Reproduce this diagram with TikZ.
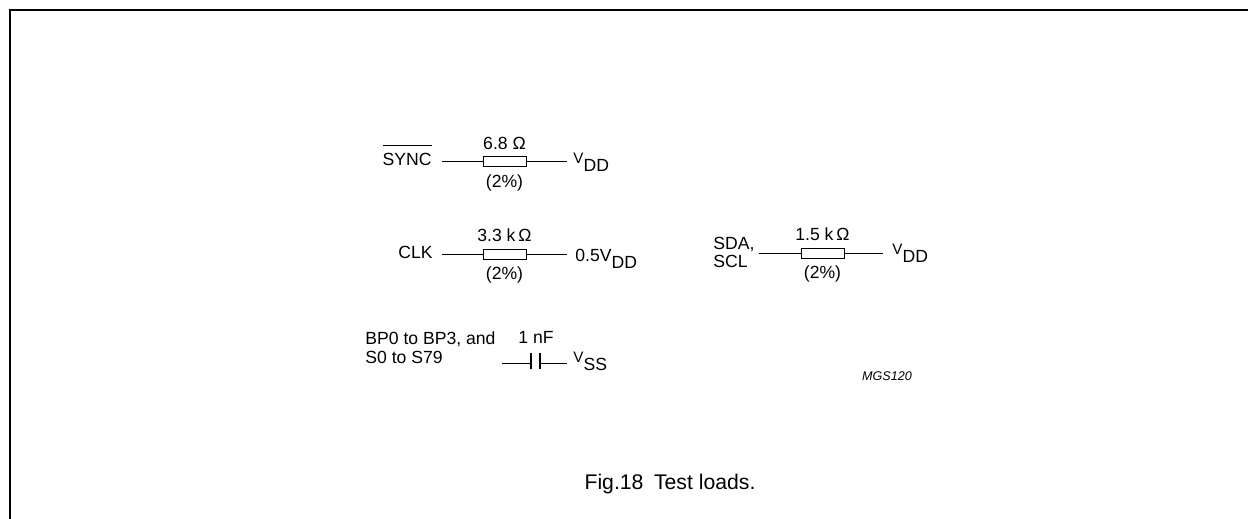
\documentclass[tikz,border=0pt]{standalone}
\usepackage{fontspec}
\setmainfont{Liberation Sans}
\usepackage{tikz}
\newcommand{\vsub}[2]{#1\raisebox{-0.8ex}{#2}}
\newcommand{\vsmall}[2]{{\fontsize{7.6}{9}\selectfont #1}\raisebox{-0.9ex}{#2}}
\begin{document}
\begin{tikzpicture}
    [
    x=0.5pt, y=-0.5pt,
    txt/.style={font=\fontsize{8.8}{10}\selectfont, inner sep=0pt},
    resistor/.style={rectangle,draw,line width=0.5pt,inner sep=0pt,minimum width=21.5pt,minimum height=5pt},
    rlabel/.style={txt,yshift=3pt},
    tolerance/.style={txt,yshift=-3.5pt},
    wire/.style={line width=0.5pt},
    plate/.style={line width=1.4pt}
    ]
    \useasboundingbox (0,0) rectangle (1248,519);
    \draw [line width=0.75pt] (1248,10) -- (10,10) -- (10,519);
    % SYNC row
    \node (sync) at (432,165) [txt,anchor=base east] {$\overline{\mbox{\rule{0pt}{8.4pt}SYNC}}$};
    \node (r1) at (504.5,162) [resistor,
      label={[rlabel]above:6.8 Ω},
      label={[tolerance]below:(2\%)}] {};
    \node (vdd1) at (573,163.5) [txt,anchor=base west] {\vsmall{V}{DD}};
    \draw [wire] ([xshift=5pt]sync.east |- r1) -- (r1);
    \draw [wire] (r1) -- ([xshift=-3pt]vdd1.west |- r1);
    % CLK row
    \node (clk) at (433,258) [txt,anchor=base east] {CLK};
    \node (r2) at (504.5,254) [resistor,
      label={[rlabel]above:3.3 k\,Ω},
      label={[tolerance]below:(2\%)}] {};
    \node (vclk) at (575,261) [txt,anchor=base west] {0.5\vsub{V}{DD}};
    \draw [wire] ([xshift=4.5pt]clk.east |- r2) -- (r2);
    \draw [wire] (r2) -- ([xshift=-4pt]vclk.west |- r2);
    % SDA, SCL row
    \node (sda) at (713,252) [txt,anchor=west,align=left,font=\fontsize{8.8}{9}\selectfont] {SDA,\\SCL};
    \node (r3) at (822.5,253) [resistor,
      label={[rlabel]above:1.5 k\,Ω},
      label={[tolerance]below:(2\%)}] {};
    \node (vdd3) at (892,254.5) [txt,anchor=base west] {\vsmall{V}{DD}};
    \draw [wire] ([xshift=2pt]sda.east |- r3) -- (r3);
    \draw [wire] (r3) -- ([xshift=-4.5pt]vdd3.west |- r3);
    % BP and S row
    \node (bp) at (365,348) [txt,anchor=west,align=left,font=\fontsize{8.8}{9.7}\selectfont] {BP0 to BP3, and\\S0 to S79};
    \coordinate (w4) at (502,363);
    \coordinate (c1) at (531,363);
    \coordinate (c2) at (540,363);
    \node (vss) at (573,362) [txt,anchor=base west] {\vsmall{V}{SS}};
    \node (cap) at (536,337) [txt] {1 nF};
    \draw [wire] (w4) -- (c1);
    \draw [wire] (c2) -- ([xshift=-3pt]vss.west |- c2);
    \draw [plate] (531,353) -- (531,369);
    \draw [plate] (540,353) -- (540,369);
    % tag and caption
    \node (tag) at (887,376) [font=\fontsize{6.3}{7}\selectfont\itshape] {MGS120};
    \node (caption) at (670,484) [font=\fontsize{10.6}{12}\selectfont] {Fig.18\enspace Test loads.};
\end{tikzpicture}
\end{document}
